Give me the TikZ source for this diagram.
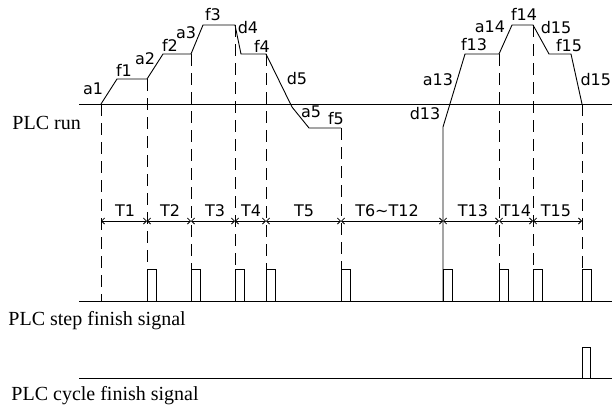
\documentclass[tikz,border=0pt]{standalone}
\usepackage{fontspec}
\setmainfont{Liberation Serif}
\newfontfamily\wavefont{DejaVu Sans}
\usetikzlibrary{arrows.meta}

\begin{document}
\begin{tikzpicture}[x=1pt,y=-1pt,line width=0.9pt,
  tag/.style={font=\wavefont\fontsize{16}{16}\selectfont,inner sep=0pt},
  sig/.style={font=\fontsize{20}{20}\selectfont,anchor=base west,inner sep=0pt},
  guide/.style={dash pattern=on 12pt off 7pt},
  dim/.style={{Straight Barb[length=3pt,width=6pt]}-{Straight Barb[length=3pt,width=6pt]},line width=0.8pt}]
  \useasboundingbox (0,0) rectangle (612,408);
  % base lines and signal names
  \draw (79,104) -- (612,104);
  \draw (79,301) -- (612,301);
  \draw (79,378) -- (612,378);
  \node[sig] (run) at (12,129) {PLC run};
  \node[sig] (step) at (8,325) {PLC step finish signal};
  \node[sig] (cycle) at (11,400) {PLC cycle finish signal};
  % frequency curve
  \draw (101,104) -- (117,79) -- (147,79) -- (163,54) -- (191,54) -- (203,25) -- (235,25)
    -- (241,54) -- (266,54) -- (292,107) -- (309,128) -- (341,128);
  \draw (443,301) -- (443,127) -- (465,54) -- (499,54) -- (512,25) -- (533,25)
    -- (549,54) -- (571,54) -- (582,104);
  \foreach \n/\x/\y in {a1/93/89,f1/124/70,a2/145/59,f2/170/45,a3/186/33,f3/213/15,
      d4/248/28,f4/262/46,d5/297/79,a5/311/112,f5/336/119,d13/425/114,a13/438/80,
      f13/474/45,a14/490/27,f14/524/14,d15/556/28,f15/569/46}
    \node[tag] (\n) at (\x,\y) {\n};
  \node[tag,anchor=east] (d15low) at (611.5,80) {d15};
  % step boundaries
  \draw[guide] (101,104) -- (101,301);
  \foreach \x/\y in {147/79,191/54,235/25,266/54,341/128,499/54,533/25,582/104}
    \draw[guide] (\x,\y) -- (\x,269);
  % step times
  \foreach \a/\b/\m/\t in {101/147/125/T1,147/191/170/T2,191/235/215/T3,235/266/251/T4,
      266/341/304/T5,341/443/387/T6\textasciitilde T12,443/499/473/T13,499/533/516/T14,
      533/582/556/T15}
    \draw[dim] (\a,221) -- (\b,221) node[tag] at (\m,211) {\t};
  % finish pulses
  \foreach \x in {147,191,235,266,341,443,499,533,582}
    \draw (\x,301) -- (\x,269) -- (\x+9,269) -- (\x+9,301);
  \draw (582,378) -- (582,347) -- (590,347) -- (590,378);
\end{tikzpicture}
\end{document}
